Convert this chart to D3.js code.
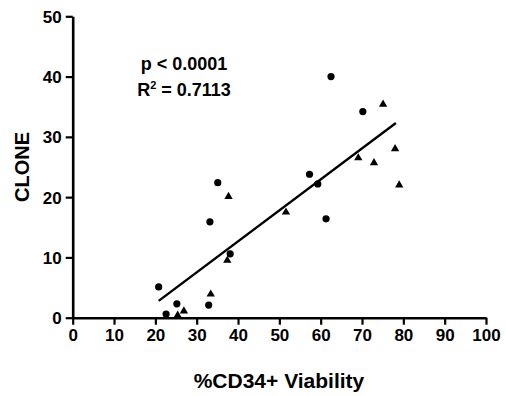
<!DOCTYPE html>
<html>
<head>
<meta charset="utf-8">
<script src="https://cdn.jsdelivr.net/npm/d3@7"></script>
<style>
  body { margin: 0; background: #fff; }
  text { font-family: "Liberation Sans", Arial, sans-serif; font-weight: bold; fill: #000; }
</style>
</head>
<body>
<div id="chart"></div>
<script>
// circles
const circleX = [35.1, 33.2, 38.1, 20.8, 32.9, 25.2, 22.6, 62.5, 70.2, 57.3, 59.3, 61.3];
const circleY = [22.4, 15.9, 10.6, 5.1, 2.1, 2.3, 0.6, 40.0, 34.2, 23.8, 22.2, 16.4];
// triangles
const triX = [37.7, 37.4, 33.4, 26.9, 25.4, 75.1, 78.0, 69.1, 72.9, 79.0, 51.6];
const triY = [20.1, 9.5, 3.9, 1.1, 0.4, 35.4, 28.0, 26.5, 25.7, 22.0, 17.5];
// fitted line
const fitX = [20.8, 78.2];
const slope = 0.514, intercept = -7.9;
const xTicks = [0, 10, 20, 30, 40, 50, 60, 70, 80, 90, 100];
const yTicks = [0, 10, 20, 30, 40, 50];

let width = 506, height = 396;
let svg = d3.select("#chart").append("svg")
  .attr("width", width)
  .attr("height", height);

let x = d3.scaleLinear().domain([0, 100]).range([72.7, 486]);
let y = d3.scaleLinear().domain([0, 50]).range([317.7, 16.3]);

// x axis
let gx = svg.append("g")
  .attr("transform", "translate(0," + y(0) + ")")
  .call(d3.axisBottom(x).tickValues(xTicks).tickSize(7).tickPadding(4).tickSizeOuter(0));
gx.select(".domain").attr("stroke-width", 2.6);
gx.selectAll(".tick line").attr("stroke-width", 2.2);
gx.selectAll(".tick text").style("font-size", "17px").attr("font-family", null);

// y axis
let gy = svg.append("g")
  .attr("transform", "translate(" + x(0) + ",0)")
  .call(d3.axisLeft(y).tickValues(yTicks).tickSize(7).tickPadding(4).tickSizeOuter(0));
gy.select(".domain").attr("stroke-width", 2.6);
gy.selectAll(".tick line").attr("stroke-width", 2.2);
gy.selectAll(".tick text").style("font-size", "17px").attr("font-family", null).attr("dy", "0.36em");

// regression line
svg.append("line")
  .attr("x1", x(fitX[0])).attr("y1", y(slope * fitX[0] + intercept))
  .attr("x2", x(fitX[1])).attr("y2", y(slope * fitX[1] + intercept))
  .attr("stroke", "#000").attr("stroke-width", 2.4);

// circle points
svg.selectAll(".dot")
  .data(circleX.map((d, i) => [d, circleY[i]]))
  .enter().append("circle")
  .attr("class", "dot")
  .attr("cx", d => x(d[0]))
  .attr("cy", d => y(d[1]))
  .attr("r", 3.6)
  .attr("fill", "#000");

// triangle points
let tri = d3.symbol().type(d3.symbolTriangle).size(30);
svg.selectAll(".tri")
  .data(triX.map((d, i) => [d, triY[i]]))
  .enter().append("path")
  .attr("class", "tri")
  .attr("d", tri)
  .attr("transform", d => "translate(" + x(d[0]) + "," + y(d[1]) + ")")
  .attr("fill", "#000");

// stats text
let stats = svg.append("text")
  .attr("x", 184).attr("y", 70)
  .attr("text-anchor", "middle")
  .style("font-size", "18px");
stats.text("p < 0.0001");

let r2 = svg.append("text")
  .attr("x", 184).attr("y", 96)
  .attr("text-anchor", "middle")
  .style("font-size", "18px");
r2.append("tspan").text("R");
r2.append("tspan").attr("dy", -7).style("font-size", "11px").text("2");
r2.append("tspan").attr("dy", 7).text(" = 0.7113");

// axis titles
svg.append("text")
  .attr("x", 279).attr("y", 388)
  .attr("text-anchor", "middle")
  .style("font-size", "21px")
  .text("%CD34+ Viability");

svg.append("text")
  .attr("transform", "translate(29,167) rotate(-90)")
  .attr("text-anchor", "middle")
  .style("font-size", "20px")
  .text("CLONE");
</script>
</body>
</html>
